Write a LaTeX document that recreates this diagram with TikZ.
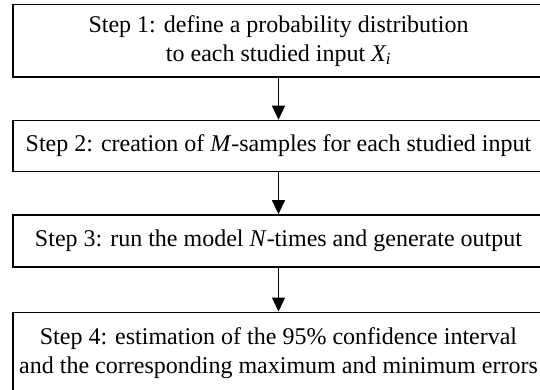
\documentclass[tikz,border=0pt]{standalone}
\usepackage{fontspec}
\setmainfont{Liberation Serif}
\usetikzlibrary{positioning,arrows.meta}
\tikzset{stepbox/.style={draw,line width=1.4pt,minimum width=531pt,inner sep=0pt,
    align=center,font=\fontsize{24}{29}\selectfont},
  flow/.style={-{Triangle[width=13pt,length=14pt]},line width=1.4pt}}

\begin{document}
\begin{tikzpicture}
           \useasboundingbox (0,0) rectangle (540pt,-390pt);
           \node[stepbox,minimum height=72.5pt] (step_1) at (278.5pt,-40.75pt)
                {Step 1: define a probability distribution\\to each studied input \textit{X\textsubscript{i}}};
           \node[stepbox,minimum height=51pt] (step_2) [below=42pt of step_1]
                {Step 2: creation of \textit{M}-samples for each studied input};
           \node[stepbox,minimum height=52pt] (step_3) [below=42pt of step_2]
                {Step 3: run the model \textit{N}-times and generate output};
           \node[stepbox,minimum height=81pt] (step_4) [below=44pt of step_3]
                {Step 4: estimation of the 95\% confidence interval\\and the corresponding maximum and minimum errors};
            \path[flow]
            (step_1) edge (step_2)
            (step_2) edge (step_3)
            (step_3) edge (step_4)
            ;
        \end{tikzpicture}
\end{document}
